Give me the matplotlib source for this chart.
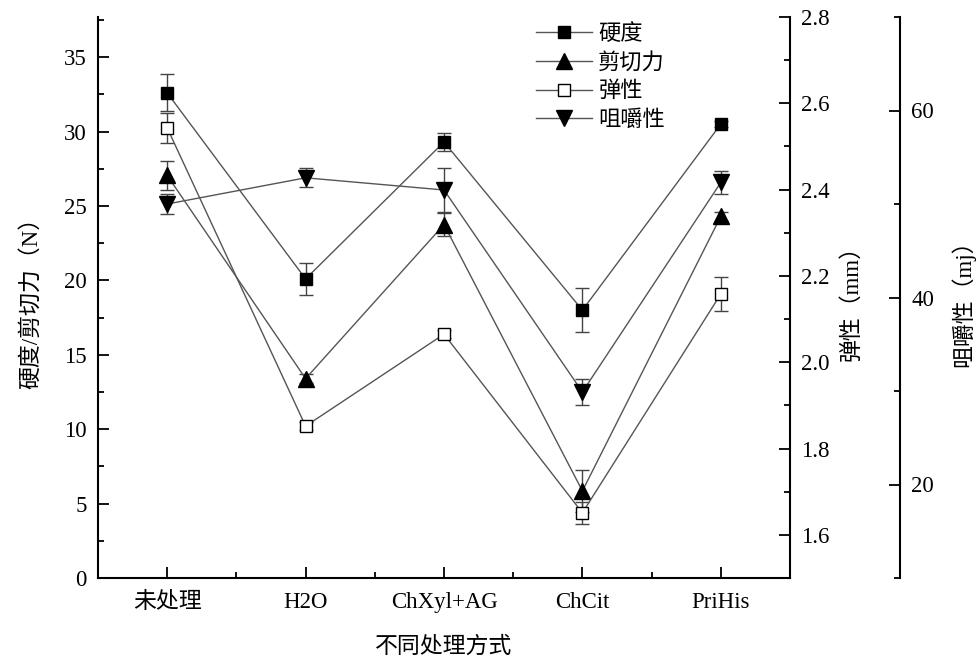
import matplotlib
matplotlib.use("Agg")
import matplotlib.pyplot as plt
from matplotlib.ticker import MultipleLocator, FormatStrFormatter
from matplotlib.lines import Line2D

plt.rcParams['font.family'] = ['Liberation Serif', 'Noto Sans CJK SC']
plt.rcParams['font.size'] = 16.5

# categories
treatments = ["未处理", "H2O", "ChXyl+AG", "ChCit", "PriHis"]

# left axis (N)
hardness = [32.6, 20.1, 29.3, 18.0, 30.5]
hardness_err = [1.25, 1.05, 0.6, 1.5, 0.2]
shear = [27.05, 13.4, 23.75, 5.85, 24.3]
shear_err = [1.0, 0.3, 0.75, 1.4, 0.3]

# first right axis (mm)
elastic = [2.543, 1.852, 2.065, 1.651, 2.158]
elastic_err = [0.035, 0.01, 0.01, 0.025, 0.04]

# second right axis (mj)
chew = [50.0, 52.8, 51.5, 29.9, 52.3]
chew_err = [1.1, 1.0, 2.4, 1.35, 1.2]

W, H = 977, 659
fig = plt.figure(figsize=(W / 100, H / 100), dpi=100)
ax1 = fig.add_axes([98 / W, 1 - 578 / H, (790 - 98) / W, (578 - 17) / H])
ax2 = ax1.twinx()
ax3 = ax1.twinx()
ax3.spines['right'].set_position(('axes', (900 - 98) / (790 - 98)))

x = list(range(len(treatments)))
line_col = '#555555'
err_col = '#444444'


def draw(ax, y, yerr, marker, face, size):
    ax.errorbar(x, y, yerr=yerr, fmt='none', ecolor=err_col, elinewidth=1,
                capsize=5, capthick=1, zorder=2)
    ax.plot(x, y, color=line_col, lw=1, zorder=3)
    ax.plot(x, y, linestyle='none', marker=marker, markersize=size,
            markerfacecolor=face, markeredgecolor='black', markeredgewidth=1, zorder=4)


draw(ax1, hardness, hardness_err, 's', 'black', 8.6)
draw(ax1, shear, shear_err, '^', 'black', 11)
draw(ax2, elastic, elastic_err, 's', 'white', 8.6)
draw(ax3, chew, chew_err, 'v', 'black', 11)

ax1.set_xlim(-0.5, 4.5)
ax1.set_ylim(0, 37.7)
ax2.set_ylim(1.5, 2.8)
ax3.set_ylim(10, 70)

ax1.set_xticks(x)
ax1.set_xticklabels(treatments)
ax1.xaxis.set_minor_locator(MultipleLocator(0.5))
ax1.yaxis.set_major_locator(MultipleLocator(5))
ax1.yaxis.set_minor_locator(MultipleLocator(2.5))
ax2.yaxis.set_major_locator(MultipleLocator(0.2))
ax2.yaxis.set_minor_locator(MultipleLocator(0.1))
ax2.yaxis.set_major_formatter(FormatStrFormatter('%.1f'))
ax3.yaxis.set_major_locator(MultipleLocator(20))
ax3.yaxis.set_minor_locator(MultipleLocator(10))

for ax in (ax1, ax2, ax3):
    ax.spines['top'].set_visible(False)
    ax.tick_params(which='major', direction='in', length=8, width=1.3, pad=8)
    ax.tick_params(which='minor', direction='in', length=4, width=1.3)
    for s in ax.spines.values():
        s.set_linewidth(1.5)
ax1.spines['right'].set_visible(False)
for ax in (ax2, ax3):
    ax.spines['left'].set_visible(False)
    ax.spines['bottom'].set_visible(False)
ax1.tick_params(axis='x', which='major', pad=10)

ax1.set_ylabel("硬度/剪切力（N）", labelpad=16)
ax2.set_ylabel("弹性（mm）", labelpad=8)
ax3.set_ylabel("咀嚼性（mj）", labelpad=12)
ax1.set_xlabel("不同处理方式", labelpad=17)

handles = [
    Line2D([], [], color=line_col, lw=1, marker='s', markersize=8.6,
           markerfacecolor='black', markeredgecolor='black'),
    Line2D([], [], color=line_col, lw=1, marker='^', markersize=11,
           markerfacecolor='black', markeredgecolor='black'),
    Line2D([], [], color=line_col, lw=1, marker='s', markersize=8.6,
           markerfacecolor='white', markeredgecolor='black'),
    Line2D([], [], color=line_col, lw=1, marker='v', markersize=11,
           markerfacecolor='black', markeredgecolor='black'),
]
fig.legend(handles, ["硬度", "剪切力", "弹性", "咀嚼性"], loc='upper left',
           bbox_to_anchor=(536 / W, 1 - 24 / H), frameon=False,
           handlelength=2.5, handletextpad=0.3, labelspacing=0.36,
           borderpad=0, borderaxespad=0, fontsize=16)

fig.savefig("out.png", dpi=100)
